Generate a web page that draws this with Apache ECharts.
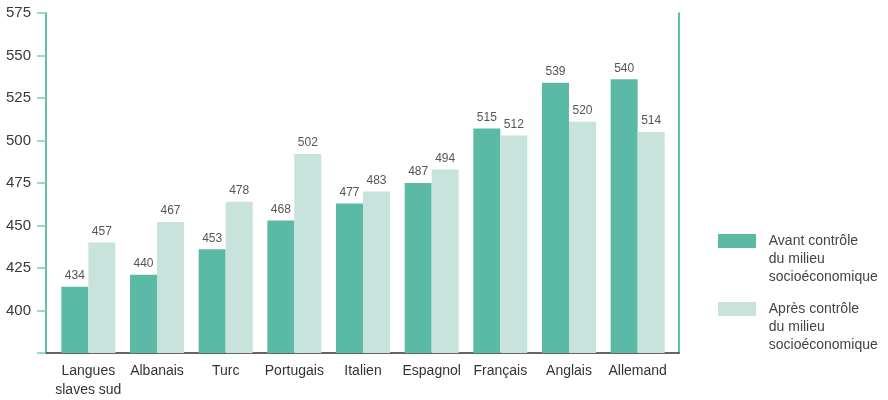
<!DOCTYPE html>
<html>
<head>
<meta charset="utf-8">
<script src="https://cdn.jsdelivr.net/npm/echarts@6/dist/echarts.min.js"></script>
<style>
  html, body { margin: 0; padding: 0; background: #fff; }
  #chart { width: 888px; height: 400px; }
</style>
</head>
<body>
<div id="chart"></div>
<script>
// categories (langue parlée)
var categories = ['Langues\nslaves sud', 'Albanais', 'Turc', 'Portugais', 'Italien', 'Espagnol', 'Français', 'Anglais', 'Allemand'];
// bar heights as drawn in the figure
var avantBars = [414, 421, 436, 453, 463, 475, 507, 534, 536];
var apresBars = [440, 452, 464, 492, 470, 483, 503, 511, 505];
// printed values above the bars
var avantLabels = [434, 440, 453, 468, 477, 487, 515, 539, 540];
var apresLabels = [457, 467, 478, 502, 483, 494, 512, 520, 514];
var yTicks = [400, 425, 450, 475, 500, 525, 550, 575];

var font = '"Liberation Sans Narrow", "Arial Narrow", "Liberation Sans", sans-serif';
var dark = '#5bbaa6';
var light = '#c8e3dc';

var chart = echarts.init(document.getElementById('chart'));

function lbl(arr) {
  return {
    show: true, position: 'top', distance: 5,
    fontFamily: font, fontSize: 12, color: '#555',
    formatter: function (p) { return arr[p.dataIndex]; }
  };
}

// two blank lines on top so the swatch sits beside the first text line,
// and a small indent for the gap after the swatch
var legendText = { fontFamily: font, fontSize: 14, color: '#444', lineHeight: 18 };
function legendFmt(name) {
  return '\n\n' + name.split('\n').map(function (s) { return '  ' + s; }).join('\n');
}

chart.setOption({
  animation: false,
  grid: [
    { left: 54, right: 216, top: 13, bottom: 47 },
    { left: 46, right: 209, top: 13, bottom: 47 }
  ],
  legend: [
    { data: ['Avant contrôle\ndu milieu\nsocioéconomique'], left: 718, top: 196, padding: 0, itemWidth: 38, itemHeight: 14, icon: 'rect', textStyle: legendText, formatter: legendFmt },
    { data: ['Après contrôle\ndu milieu\nsocioéconomique'], left: 718, top: 264, padding: 0, itemWidth: 38, itemHeight: 14, icon: 'rect', textStyle: legendText, formatter: legendFmt }
  ],
  xAxis: [
    {
      type: 'category', gridIndex: 0, data: categories,
      axisLine: { show: false }, axisTick: { show: false },
      axisLabel: { fontFamily: font, fontSize: 14, color: '#333', lineHeight: 19, margin: 9, interval: 0 }
    },
    {
      type: 'category', gridIndex: 1, data: categories,
      axisLine: { show: true, lineStyle: { color: '#333', width: 1.5 } },
      axisTick: { show: false }, axisLabel: { show: false }
    }
  ],
  yAxis: [
    { type: 'value', gridIndex: 0, min: 375, max: 575, show: false },
    {
      type: 'value', gridIndex: 1, min: 375, max: 575, interval: 25, position: 'left',
      axisLine: { show: true, lineStyle: { color: '#2fa88d', width: 1.5 } },
      axisTick: { show: true, length: 9, lineStyle: { color: '#7ccbb5', width: 1.5 } },
      axisLabel: {
        fontFamily: font, fontSize: 15, color: '#3a3a3a', margin: 15,
        formatter: function (v) { return yTicks.indexOf(v) >= 0 ? v : ''; }
      },
      splitLine: { show: false }
    },
    {
      type: 'value', gridIndex: 1, min: 375, max: 575, position: 'right',
      axisLine: { show: true, lineStyle: { color: '#2fa88d', width: 1.5 } },
      axisTick: { show: false }, axisLabel: { show: false }, splitLine: { show: false }
    }
  ],
  series: [
    {
      name: 'Avant contrôle\ndu milieu\nsocioéconomique', type: 'bar',
      xAxisIndex: 0, yAxisIndex: 0, data: avantBars,
      barWidth: 27, barGap: '0%', itemStyle: { color: dark }, label: lbl(avantLabels)
    },
    {
      name: 'Après contrôle\ndu milieu\nsocioéconomique', type: 'bar',
      xAxisIndex: 0, yAxisIndex: 0, data: apresBars,
      barWidth: 27, barGap: '0%', itemStyle: { color: light }, label: lbl(apresLabels)
    }
  ]
});
</script>
</body>
</html>
